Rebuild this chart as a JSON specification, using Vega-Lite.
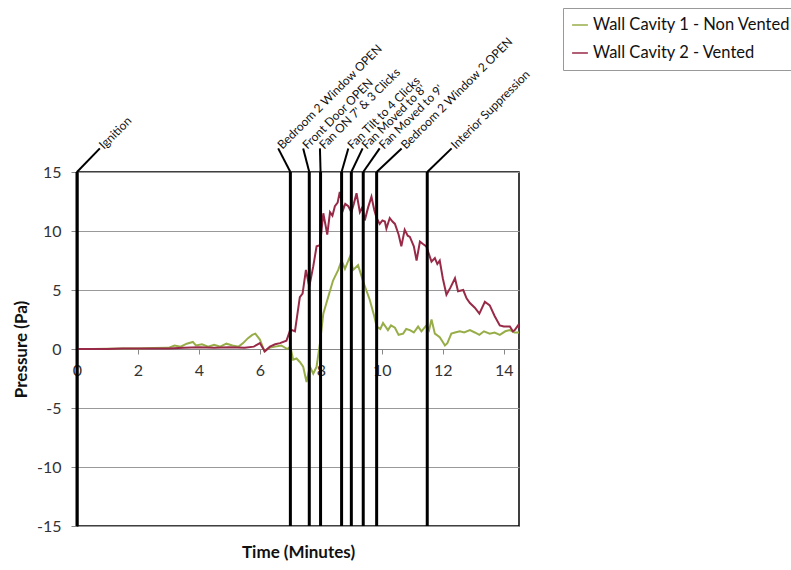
{
  "$schema": "https://vega.github.io/schema/vega-lite/v6.json",
  "width": 442,
  "height": 354,
  "autosize": {"type": "none"},
  "padding": {"left": 77, "top": 172, "right": 272, "bottom": 44},
  "background": "white",
  "config": {
    "font": "Lato",
    "view": {"stroke": "black", "strokeWidth": 1.5},
    "axis": {"labelFont": "Lato", "titleFont": "Lato", "labelColor": "#333333", "titleColor": "#111111"}
  },
  "datasets": {
    "series": [
      {"s": "Wall Cavity 1 - Non Vented", "t": 0, "v": 0},
      {"s": "Wall Cavity 1 - Non Vented", "t": 0.5, "v": 0},
      {"s": "Wall Cavity 1 - Non Vented", "t": 1, "v": 0.02},
      {"s": "Wall Cavity 1 - Non Vented", "t": 1.5, "v": 0.05},
      {"s": "Wall Cavity 1 - Non Vented", "t": 2, "v": 0.05},
      {"s": "Wall Cavity 1 - Non Vented", "t": 2.5, "v": 0.08},
      {"s": "Wall Cavity 1 - Non Vented", "t": 3, "v": 0.1},
      {"s": "Wall Cavity 1 - Non Vented", "t": 3.2, "v": 0.3},
      {"s": "Wall Cavity 1 - Non Vented", "t": 3.4, "v": 0.2},
      {"s": "Wall Cavity 1 - Non Vented", "t": 3.6, "v": 0.45},
      {"s": "Wall Cavity 1 - Non Vented", "t": 3.8, "v": 0.6},
      {"s": "Wall Cavity 1 - Non Vented", "t": 3.9, "v": 0.3},
      {"s": "Wall Cavity 1 - Non Vented", "t": 4.1, "v": 0.4},
      {"s": "Wall Cavity 1 - Non Vented", "t": 4.3, "v": 0.2},
      {"s": "Wall Cavity 1 - Non Vented", "t": 4.5, "v": 0.35},
      {"s": "Wall Cavity 1 - Non Vented", "t": 4.7, "v": 0.2},
      {"s": "Wall Cavity 1 - Non Vented", "t": 4.9, "v": 0.45},
      {"s": "Wall Cavity 1 - Non Vented", "t": 5.1, "v": 0.3},
      {"s": "Wall Cavity 1 - Non Vented", "t": 5.3, "v": 0.2},
      {"s": "Wall Cavity 1 - Non Vented", "t": 5.45, "v": 0.5},
      {"s": "Wall Cavity 1 - Non Vented", "t": 5.6, "v": 0.9},
      {"s": "Wall Cavity 1 - Non Vented", "t": 5.75, "v": 1.2},
      {"s": "Wall Cavity 1 - Non Vented", "t": 5.85, "v": 1.3},
      {"s": "Wall Cavity 1 - Non Vented", "t": 6.0, "v": 0.8},
      {"s": "Wall Cavity 1 - Non Vented", "t": 6.15, "v": -0.2},
      {"s": "Wall Cavity 1 - Non Vented", "t": 6.3, "v": 0.1},
      {"s": "Wall Cavity 1 - Non Vented", "t": 6.5, "v": 0.2},
      {"s": "Wall Cavity 1 - Non Vented", "t": 6.7, "v": 0.3},
      {"s": "Wall Cavity 1 - Non Vented", "t": 6.9, "v": 0.0},
      {"s": "Wall Cavity 1 - Non Vented", "t": 7.0, "v": 0.2},
      {"s": "Wall Cavity 1 - Non Vented", "t": 7.09, "v": -0.9},
      {"s": "Wall Cavity 1 - Non Vented", "t": 7.2, "v": -0.8},
      {"s": "Wall Cavity 1 - Non Vented", "t": 7.31, "v": -1.1},
      {"s": "Wall Cavity 1 - Non Vented", "t": 7.42, "v": -1.5},
      {"s": "Wall Cavity 1 - Non Vented", "t": 7.53, "v": -2.8},
      {"s": "Wall Cavity 1 - Non Vented", "t": 7.64, "v": -1.5},
      {"s": "Wall Cavity 1 - Non Vented", "t": 7.75, "v": -2.1},
      {"s": "Wall Cavity 1 - Non Vented", "t": 7.86, "v": -1.5},
      {"s": "Wall Cavity 1 - Non Vented", "t": 7.97, "v": 0.5},
      {"s": "Wall Cavity 1 - Non Vented", "t": 8.08, "v": 3.0},
      {"s": "Wall Cavity 1 - Non Vented", "t": 8.24, "v": 4.4},
      {"s": "Wall Cavity 1 - Non Vented", "t": 8.4, "v": 5.8},
      {"s": "Wall Cavity 1 - Non Vented", "t": 8.57, "v": 6.7},
      {"s": "Wall Cavity 1 - Non Vented", "t": 8.68, "v": 7.5},
      {"s": "Wall Cavity 1 - Non Vented", "t": 8.79, "v": 6.8},
      {"s": "Wall Cavity 1 - Non Vented", "t": 8.95, "v": 7.8},
      {"s": "Wall Cavity 1 - Non Vented", "t": 9.06, "v": 6.7},
      {"s": "Wall Cavity 1 - Non Vented", "t": 9.22, "v": 7.1},
      {"s": "Wall Cavity 1 - Non Vented", "t": 9.39, "v": 5.7},
      {"s": "Wall Cavity 1 - Non Vented", "t": 9.6, "v": 4.2},
      {"s": "Wall Cavity 1 - Non Vented", "t": 9.75, "v": 2.8},
      {"s": "Wall Cavity 1 - Non Vented", "t": 9.83, "v": 1.9},
      {"s": "Wall Cavity 1 - Non Vented", "t": 9.95, "v": 1.7},
      {"s": "Wall Cavity 1 - Non Vented", "t": 10.04, "v": 2.2},
      {"s": "Wall Cavity 1 - Non Vented", "t": 10.2, "v": 1.6},
      {"s": "Wall Cavity 1 - Non Vented", "t": 10.3, "v": 2.0},
      {"s": "Wall Cavity 1 - Non Vented", "t": 10.43, "v": 1.8},
      {"s": "Wall Cavity 1 - Non Vented", "t": 10.55, "v": 1.2},
      {"s": "Wall Cavity 1 - Non Vented", "t": 10.7, "v": 1.3},
      {"s": "Wall Cavity 1 - Non Vented", "t": 10.8, "v": 1.7},
      {"s": "Wall Cavity 1 - Non Vented", "t": 10.92, "v": 1.6},
      {"s": "Wall Cavity 1 - Non Vented", "t": 11.05, "v": 1.4},
      {"s": "Wall Cavity 1 - Non Vented", "t": 11.19, "v": 1.9},
      {"s": "Wall Cavity 1 - Non Vented", "t": 11.3, "v": 1.5},
      {"s": "Wall Cavity 1 - Non Vented", "t": 11.46, "v": 2.0},
      {"s": "Wall Cavity 1 - Non Vented", "t": 11.55, "v": 1.6},
      {"s": "Wall Cavity 1 - Non Vented", "t": 11.63, "v": 2.5},
      {"s": "Wall Cavity 1 - Non Vented", "t": 11.74, "v": 1.3},
      {"s": "Wall Cavity 1 - Non Vented", "t": 11.9, "v": 1.0},
      {"s": "Wall Cavity 1 - Non Vented", "t": 12.0, "v": 0.6},
      {"s": "Wall Cavity 1 - Non Vented", "t": 12.07, "v": 0.3},
      {"s": "Wall Cavity 1 - Non Vented", "t": 12.15, "v": 0.5},
      {"s": "Wall Cavity 1 - Non Vented", "t": 12.28, "v": 1.3},
      {"s": "Wall Cavity 1 - Non Vented", "t": 12.4, "v": 1.4},
      {"s": "Wall Cavity 1 - Non Vented", "t": 12.56, "v": 1.5},
      {"s": "Wall Cavity 1 - Non Vented", "t": 12.7, "v": 1.4},
      {"s": "Wall Cavity 1 - Non Vented", "t": 12.89, "v": 1.6},
      {"s": "Wall Cavity 1 - Non Vented", "t": 13.05, "v": 1.4},
      {"s": "Wall Cavity 1 - Non Vented", "t": 13.2, "v": 1.2},
      {"s": "Wall Cavity 1 - Non Vented", "t": 13.35, "v": 1.5},
      {"s": "Wall Cavity 1 - Non Vented", "t": 13.54, "v": 1.3},
      {"s": "Wall Cavity 1 - Non Vented", "t": 13.7, "v": 1.4},
      {"s": "Wall Cavity 1 - Non Vented", "t": 13.87, "v": 1.2},
      {"s": "Wall Cavity 1 - Non Vented", "t": 14.05, "v": 1.5},
      {"s": "Wall Cavity 1 - Non Vented", "t": 14.2, "v": 1.6},
      {"s": "Wall Cavity 1 - Non Vented", "t": 14.35, "v": 1.4},
      {"s": "Wall Cavity 1 - Non Vented", "t": 14.5, "v": 1.4},
      {"s": "Wall Cavity 2 - Vented", "t": 0, "v": 0},
      {"s": "Wall Cavity 2 - Vented", "t": 0.5, "v": 0},
      {"s": "Wall Cavity 2 - Vented", "t": 1, "v": 0},
      {"s": "Wall Cavity 2 - Vented", "t": 1.5, "v": 0.05},
      {"s": "Wall Cavity 2 - Vented", "t": 2, "v": 0.05},
      {"s": "Wall Cavity 2 - Vented", "t": 2.5, "v": 0.05},
      {"s": "Wall Cavity 2 - Vented", "t": 3, "v": 0.05},
      {"s": "Wall Cavity 2 - Vented", "t": 3.5, "v": 0.1},
      {"s": "Wall Cavity 2 - Vented", "t": 4, "v": 0.15},
      {"s": "Wall Cavity 2 - Vented", "t": 4.5, "v": 0.1},
      {"s": "Wall Cavity 2 - Vented", "t": 5, "v": 0.15},
      {"s": "Wall Cavity 2 - Vented", "t": 5.5, "v": 0.1},
      {"s": "Wall Cavity 2 - Vented", "t": 5.8, "v": 0.2},
      {"s": "Wall Cavity 2 - Vented", "t": 6.0, "v": 0.5},
      {"s": "Wall Cavity 2 - Vented", "t": 6.16, "v": -0.2},
      {"s": "Wall Cavity 2 - Vented", "t": 6.33, "v": 0.2},
      {"s": "Wall Cavity 2 - Vented", "t": 6.5, "v": 0.4},
      {"s": "Wall Cavity 2 - Vented", "t": 6.66, "v": 0.5},
      {"s": "Wall Cavity 2 - Vented", "t": 6.87, "v": 0.7},
      {"s": "Wall Cavity 2 - Vented", "t": 6.98, "v": 1.5},
      {"s": "Wall Cavity 2 - Vented", "t": 7.05, "v": 1.6},
      {"s": "Wall Cavity 2 - Vented", "t": 7.15, "v": 1.5},
      {"s": "Wall Cavity 2 - Vented", "t": 7.31, "v": 4.4},
      {"s": "Wall Cavity 2 - Vented", "t": 7.4, "v": 4.7},
      {"s": "Wall Cavity 2 - Vented", "t": 7.51, "v": 6.7},
      {"s": "Wall Cavity 2 - Vented", "t": 7.62, "v": 5.3},
      {"s": "Wall Cavity 2 - Vented", "t": 7.75, "v": 7.0},
      {"s": "Wall Cavity 2 - Vented", "t": 7.86, "v": 8.7},
      {"s": "Wall Cavity 2 - Vented", "t": 7.97, "v": 8.8},
      {"s": "Wall Cavity 2 - Vented", "t": 8.08, "v": 11.5},
      {"s": "Wall Cavity 2 - Vented", "t": 8.21, "v": 9.7},
      {"s": "Wall Cavity 2 - Vented", "t": 8.3, "v": 11.6},
      {"s": "Wall Cavity 2 - Vented", "t": 8.38, "v": 11.3},
      {"s": "Wall Cavity 2 - Vented", "t": 8.46, "v": 12.1},
      {"s": "Wall Cavity 2 - Vented", "t": 8.55, "v": 12.4},
      {"s": "Wall Cavity 2 - Vented", "t": 8.62, "v": 13.3},
      {"s": "Wall Cavity 2 - Vented", "t": 8.73, "v": 11.8},
      {"s": "Wall Cavity 2 - Vented", "t": 8.8, "v": 12.3},
      {"s": "Wall Cavity 2 - Vented", "t": 8.9, "v": 12.1},
      {"s": "Wall Cavity 2 - Vented", "t": 9.0, "v": 11.6},
      {"s": "Wall Cavity 2 - Vented", "t": 9.08, "v": 12.3},
      {"s": "Wall Cavity 2 - Vented", "t": 9.17, "v": 13.2},
      {"s": "Wall Cavity 2 - Vented", "t": 9.28, "v": 11.6},
      {"s": "Wall Cavity 2 - Vented", "t": 9.36, "v": 12.0},
      {"s": "Wall Cavity 2 - Vented", "t": 9.44, "v": 10.9},
      {"s": "Wall Cavity 2 - Vented", "t": 9.55, "v": 12.0},
      {"s": "Wall Cavity 2 - Vented", "t": 9.66, "v": 12.9},
      {"s": "Wall Cavity 2 - Vented", "t": 9.75, "v": 11.8},
      {"s": "Wall Cavity 2 - Vented", "t": 9.83, "v": 11.1},
      {"s": "Wall Cavity 2 - Vented", "t": 9.93, "v": 10.6},
      {"s": "Wall Cavity 2 - Vented", "t": 10.02, "v": 10.9},
      {"s": "Wall Cavity 2 - Vented", "t": 10.1, "v": 10.8},
      {"s": "Wall Cavity 2 - Vented", "t": 10.15, "v": 10.2},
      {"s": "Wall Cavity 2 - Vented", "t": 10.26, "v": 11.1},
      {"s": "Wall Cavity 2 - Vented", "t": 10.35, "v": 10.8},
      {"s": "Wall Cavity 2 - Vented", "t": 10.43, "v": 10.6},
      {"s": "Wall Cavity 2 - Vented", "t": 10.55, "v": 9.7},
      {"s": "Wall Cavity 2 - Vented", "t": 10.64, "v": 8.7},
      {"s": "Wall Cavity 2 - Vented", "t": 10.75, "v": 10.1},
      {"s": "Wall Cavity 2 - Vented", "t": 10.85, "v": 9.6},
      {"s": "Wall Cavity 2 - Vented", "t": 10.92, "v": 9.5},
      {"s": "Wall Cavity 2 - Vented", "t": 11.05, "v": 8.7},
      {"s": "Wall Cavity 2 - Vented", "t": 11.14, "v": 7.5},
      {"s": "Wall Cavity 2 - Vented", "t": 11.25, "v": 9.1},
      {"s": "Wall Cavity 2 - Vented", "t": 11.35, "v": 8.9},
      {"s": "Wall Cavity 2 - Vented", "t": 11.46, "v": 8.7},
      {"s": "Wall Cavity 2 - Vented", "t": 11.55, "v": 8.0},
      {"s": "Wall Cavity 2 - Vented", "t": 11.63, "v": 7.4},
      {"s": "Wall Cavity 2 - Vented", "t": 11.74, "v": 7.7},
      {"s": "Wall Cavity 2 - Vented", "t": 11.82, "v": 7.2},
      {"s": "Wall Cavity 2 - Vented", "t": 11.9, "v": 7.5},
      {"s": "Wall Cavity 2 - Vented", "t": 12.0, "v": 6.0},
      {"s": "Wall Cavity 2 - Vented", "t": 12.12, "v": 4.6},
      {"s": "Wall Cavity 2 - Vented", "t": 12.25, "v": 5.2},
      {"s": "Wall Cavity 2 - Vented", "t": 12.4, "v": 6.0},
      {"s": "Wall Cavity 2 - Vented", "t": 12.5, "v": 4.9},
      {"s": "Wall Cavity 2 - Vented", "t": 12.67, "v": 5.0},
      {"s": "Wall Cavity 2 - Vented", "t": 12.78, "v": 4.3},
      {"s": "Wall Cavity 2 - Vented", "t": 12.89, "v": 3.9},
      {"s": "Wall Cavity 2 - Vented", "t": 13.05, "v": 3.5},
      {"s": "Wall Cavity 2 - Vented", "t": 13.2, "v": 3.0},
      {"s": "Wall Cavity 2 - Vented", "t": 13.38, "v": 4.0},
      {"s": "Wall Cavity 2 - Vented", "t": 13.54, "v": 3.7},
      {"s": "Wall Cavity 2 - Vented", "t": 13.7, "v": 2.8},
      {"s": "Wall Cavity 2 - Vented", "t": 13.87, "v": 2.0},
      {"s": "Wall Cavity 2 - Vented", "t": 14.0, "v": 1.9},
      {"s": "Wall Cavity 2 - Vented", "t": 14.2, "v": 1.9},
      {"s": "Wall Cavity 2 - Vented", "t": 14.3, "v": 1.5},
      {"s": "Wall Cavity 2 - Vented", "t": 14.36, "v": 1.6},
      {"s": "Wall Cavity 2 - Vented", "t": 14.47, "v": 2.0},
      {"s": "Wall Cavity 2 - Vented", "t": 14.5, "v": 1.8}
    ],
    "events": [
      {"event": "Ignition", "t": 0, "lt": 0.75},
      {"event": "Bedroom 2 Window OPEN", "t": 7.0, "lt": 6.6},
      {"event": "Front Door OPEN", "t": 7.62, "lt": 7.42},
      {"event": "Fan ON 7' & 3 Clicks", "t": 7.99, "lt": 7.97},
      {"event": "Fan Tilt to 4 Clicks", "t": 8.68, "lt": 8.9},
      {"event": "Fan Moved to 8'", "t": 9.0, "lt": 9.37},
      {"event": "Fan Moved to 9'", "t": 9.39, "lt": 9.93},
      {"event": "Bedroom 2 Window 2 OPEN", "t": 9.83, "lt": 10.65},
      {"event": "Interior Suppression", "t": 11.49, "lt": 12.29}
    ]
  },
  "layer": [
    {
      "data": {"name": "series"},
      "mark": {"type": "line", "strokeWidth": 2, "clip": true},
      "encoding": {
        "x": {
          "field": "t", "type": "quantitative",
          "scale": {"domain": [0, 14.5], "nice": false, "zero": false},
          "axis": {
            "title": "Time (Minutes)", "titleFontSize": 17, "titleFontWeight": "bold",
            "titleY": 203, "titleBaseline": "middle",
            "values": [0, 2, 4, 6, 8, 10, 12, 14], "labelExpr": "'' + datum.value",
            "offset": -177, "domainColor": "#888888", "domainWidth": 1,
            "tickColor": "#888888", "tickSize": 5, "labelFontSize": 16, "labelPadding": 8,
            "labelFlush": false, "grid": false
          }
        },
        "y": {
          "field": "v", "type": "quantitative",
          "scale": {"domain": [-15, 15], "nice": false},
          "axis": {
            "title": "Pressure (Pa)", "titleFontSize": 17, "titleFontWeight": "bold",
            "titleX": -56, "titleY": 177, "titleAlign": "center", "titleBaseline": "middle",
            "values": [-15, -10, -5, 0, 5, 10, 15], "labelExpr": "'' + datum.value",
            "domainColor": "black", "domainWidth": 2,
            "tickColor": "#888888", "tickSize": 6, "labelFontSize": 16, "labelPadding": 10,
            "grid": true, "gridColor": "#999999", "gridWidth": 1
          }
        },
        "color": {
          "field": "s", "type": "nominal",
          "scale": {"domain": ["Wall Cavity 1 - Non Vented", "Wall Cavity 2 - Vented"], "range": ["#97AE48", "#982A48"]},
          "legend": {
            "title": null, "orient": "none", "legendX": 486, "legendY": -164,
            "strokeColor": "#999999", "padding": 8, "labelFontSize": 16.5, "labelFont": "Lato",
            "labelColor": "#111111", "labelLimit": 0, "symbolType": "stroke", "symbolSize": 250,
            "symbolStrokeWidth": 1.5, "rowPadding": 10, "labelOffset": 4
          }
        }
      }
    },
    {
      "data": {"name": "events"},
      "mark": {"type": "rule", "color": "black", "strokeWidth": 3},
      "encoding": {
        "x": {"field": "t", "type": "quantitative"},
        "y": {"datum": -15},
        "y2": {"datum": 15}
      }
    },
    {
      "data": {"name": "events"},
      "mark": {"type": "rule", "color": "black", "strokeWidth": 2},
      "encoding": {
        "x": {"field": "t", "type": "quantitative"},
        "x2": {"field": "lt"},
        "y": {"datum": 15},
        "y2": {"datum": 17}
      }
    },
    {
      "data": {"name": "events"},
      "mark": {"type": "text", "angle": -45, "align": "left", "baseline": "middle", "dx": 2, "fontSize": 12, "font": "Lato", "color": "#111111"},
      "encoding": {
        "x": {"field": "lt", "type": "quantitative"},
        "y": {"datum": 17},
        "text": {"field": "event"}
      }
    }
  ]
}
